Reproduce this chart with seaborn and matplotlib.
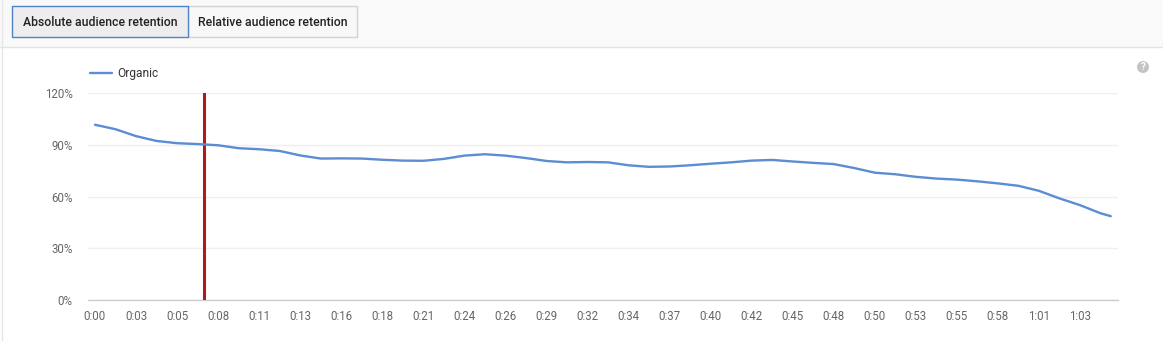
import matplotlib
matplotlib.use("Agg")
import matplotlib.pyplot as plt
import matplotlib.transforms as mtransforms
import seaborn as sns
import pandas as pd
from matplotlib.patches import Rectangle, Circle
from matplotlib.lines import Line2D

# ---- data ----
step_sec = 1.32  # seconds between sampled points (every 2% of a 66 s video)
organic = [101.6, 99.0, 95.0, 92.2, 90.9, 90.4, 89.7, 88.0, 87.4, 86.4,
           83.8, 82.0, 82.1, 82.0, 81.3, 80.8, 80.7, 81.8, 83.7, 84.5,
           83.7, 82.3, 80.6, 79.8, 80.0, 79.8, 78.1, 77.2, 77.4, 78.1,
           79.0, 79.8, 80.8, 81.2, 80.3, 79.5, 78.8, 76.5, 73.8, 72.9,
           71.4, 70.4, 69.8, 68.8, 67.6, 66.2, 63.3, 58.9, 55.0, 50.3]
last_point = (65.34, 48.6)
marker_sec = 7.04
tick_step = 2.64
x_labels = ["0:00", "0:03", "0:05", "0:08", "0:11", "0:13", "0:16", "0:18",
            "0:21", "0:24", "0:26", "0:29", "0:32", "0:34", "0:37", "0:40",
            "0:42", "0:45", "0:48", "0:50", "0:53", "0:55", "0:58", "1:01",
            "1:03"]
y_ticks = [0, 30, 60, 90, 120]
y_labels = ["0%", "30%", "60%", "90%", "120%"]
series_name = "Organic"
buttons = ["Absolute audience retention", "Relative audience retention"]

times = [i * step_sec for i in range(len(organic))] + [last_point[0]]
values = organic + [last_point[1]]
df = pd.DataFrame({"t": times, "v": values, "s": series_name})

sns.set_theme(style="white")
plt.rcParams["font.family"] = ["Roboto", "DejaVu Sans"]

W, H = 1163, 341
fig = plt.figure(figsize=(W / 100, H / 100), dpi=100)
fig.patch.set_facecolor("white")

def fx(px):
    return px / W

def fy(py):
    return 1 - py / H

# top strip
fig.patches.append(Rectangle((0, fy(47)), 1, 47 / H, transform=fig.transFigure,
                             facecolor="#f9f9f9", edgecolor="none", zorder=0))
fig.lines.append(Line2D([0, 1], [fy(47), fy(47)], transform=fig.transFigure,
                        color="#e3e3e3", lw=1))
fig.lines.append(Line2D([fx(2), fx(2)], [0, 1], transform=fig.transFigure,
                        color="#e6e6e6", lw=1))

# buttons
b1 = (12, 6, 176, 31)
b2 = (188, 6, 169, 31)
fig.patches.append(Rectangle((fx(b1[0]), fy(b1[1] + b1[3])), b1[2] / W, b1[3] / H,
                             transform=fig.transFigure, facecolor="#ededed",
                             edgecolor="#4f82c9", lw=1, zorder=3))
fig.patches.append(Rectangle((fx(b2[0]), fy(b2[1] + b2[3])), b2[2] / W, b2[3] / H,
                             transform=fig.transFigure, facecolor="#f8f8f8",
                             edgecolor="#d3d3d3", lw=1, zorder=2))
for (bx, by, bw, bh), label in zip([b1, b2], buttons):
    fig.text(fx(bx + bw / 2), fy(by + bh / 2 + 0.5), label, ha="center", va="center",
             fontsize=8.8, fontweight="medium", color="#222222", zorder=4)

# help icon (pixel coordinates)
pix = mtransforms.IdentityTransform()
fig.patches.append(Circle((1143, H - 67), 6, transform=pix,
                          facecolor="#c4c4c4", edgecolor="none"))
fig.text(fx(1143), fy(67.5), "?", ha="center", va="center", fontsize=7,
         color="white", fontweight="bold")

# axes
left, right, top, bottom = 88, 1118, 93, 300
ax = fig.add_axes([fx(left), fy(bottom), (right - left) / W, (bottom - top) / H])
ax.set_facecolor("white")

line_color = "#5a8dd3"
sns.lineplot(data=df, x="t", y="v", ax=ax, color=line_color, lw=1.7, legend=False,
             zorder=4)
ax.axvline(marker_sec, color="#b0191e", lw=2.2, zorder=3)

ax.set_xlim((left - 95) * tick_step / 41.04, (right - 95) * tick_step / 41.04)
ax.set_ylim(0, 120)
ax.set_yticks(y_ticks)
ax.set_yticklabels(y_labels)
ax.set_xticks([i * tick_step for i in range(len(x_labels))])
ax.set_xticklabels(x_labels)
ax.tick_params(axis="both", length=0, labelsize=8.3, colors="#666666")
ax.tick_params(axis="y", pad=11)
ax.tick_params(axis="x", pad=7)
ax.set_xlabel("")
ax.set_ylabel("")
ax.grid(axis="y", color="#efefef", lw=1)
ax.grid(axis="x", visible=False)
for s in ["top", "right", "left"]:
    ax.spines[s].set_visible(False)
ax.spines["bottom"].set_color("#cccccc")
ax.spines["bottom"].set_linewidth(1)

# legend
fig.lines.append(Line2D([fx(90), fx(112)], [fy(73), fy(73)], transform=fig.transFigure,
                        color=line_color, lw=1.7))
fig.text(fx(117), fy(73), series_name, ha="left", va="center", fontsize=8.6,
         color="#333333")

fig.savefig("out.png", dpi=100)
